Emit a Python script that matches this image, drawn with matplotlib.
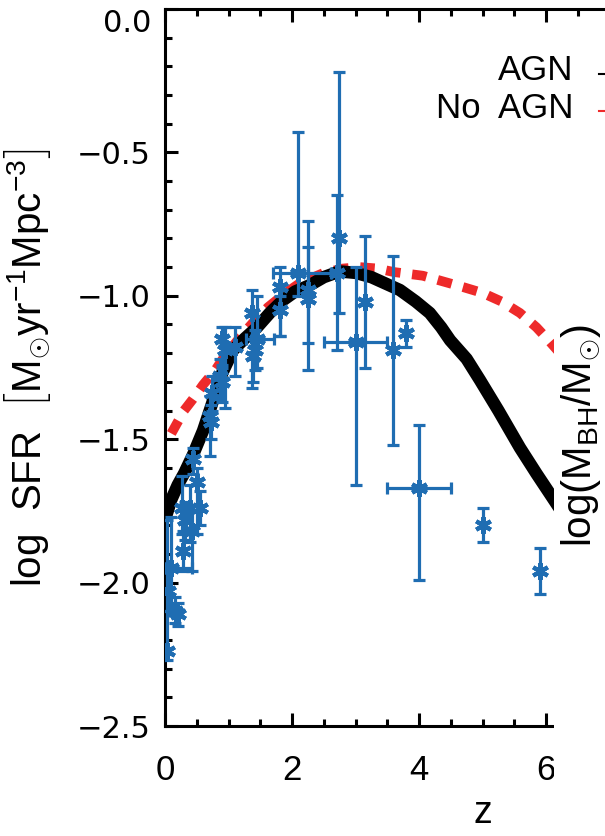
import numpy as np
import matplotlib
matplotlib.use("Agg")
import matplotlib.pyplot as plt
from matplotlib.patches import Rectangle
from matplotlib.lines import Line2D
from matplotlib.ticker import MultipleLocator

plt.rcParams['font.family'] = ['Liberation Sans', 'DejaVu Sans']
plt.rcParams['mathtext.fontset'] = 'custom'
plt.rcParams['mathtext.rm'] = 'Liberation Sans'
plt.rcParams['mathtext.it'] = 'Liberation Sans'

# model curves
z_agn = [0.0, 0.1, 0.2, 0.3, 0.45, 0.6, 0.75, 0.9, 1.07, 1.25, 1.45, 1.65, 1.86,
         2.05, 2.28, 2.5, 2.75, 3.0, 3.25, 3.5, 3.7, 3.95, 4.17, 4.35, 4.49, 4.75,
         4.96, 5.25, 5.59, 5.85, 6.09, 6.3]
sfr_agn = [-1.78, -1.71, -1.66, -1.62, -1.55, -1.47, -1.37, -1.27, -1.19, -1.15,
           -1.11, -1.06, -1.015, -0.985, -0.963, -0.935, -0.915, -0.92, -0.935,
           -0.96, -0.98, -1.02, -1.06, -1.11, -1.155, -1.22, -1.294, -1.40, -1.53,
           -1.62, -1.70, -1.77]

z_noagn = [0.1, 0.2, 0.3, 0.44, 0.6, 0.79, 0.94, 1.2, 1.4, 1.62, 1.9, 2.13, 2.5,
           2.8, 3.07, 3.35, 3.6, 4.06, 4.38, 4.7, 5.0, 5.3, 5.59, 5.85, 6.06, 6.3]
sfr_noagn = [-1.48, -1.44, -1.40, -1.36, -1.31, -1.26, -1.21, -1.14, -1.09, -1.04,
             -0.99, -0.955, -0.92, -0.905, -0.90, -0.905, -0.917, -0.93, -0.95,
             -0.97, -0.99, -1.02, -1.06, -1.11, -1.16, -1.22]

# observational compilation: z, log SFR, lower / upper bound of y error
obs_z = [4.0, 5.0, 5.9, 3.8, 3.59, 3.15, 3.0, 2.74, 2.71, 2.1, 2.25, 2.25, 1.81,
         1.81, 1.37, 1.45, 1.42, 1.38, 1.1, 0.9, 0.94, 0.86, 0.89, 0.74, 0.71,
         0.72, 0.44, 0.50, 0.27, 0.39, 0.55, 0.31, 0.43, 0.28, 0.1, 0.05, 0.16,
         0.2, 0.03]
obs_sfr = [-1.67, -1.80, -1.96, -1.13, -1.19, -1.02, -1.16, -0.80, -0.92, -0.92,
           -0.98, -1.01, -0.97, -1.05, -1.06, -1.15, -1.19, -1.21, -1.18, -1.15,
           -1.19, -1.28, -1.30, -1.34, -1.42, -1.44, -1.57, -1.65, -1.74, -1.74,
           -1.74, -1.78, -1.82, -1.89, -1.95, -2.03, -2.10, -2.11, -2.24]
obs_lo = [-1.99, -1.86, -2.04, -1.18, -1.52, -1.25, -1.66, -1.06, -1.19, -1.00,
          -1.26, -1.165, -1.14, -1.14, -1.32, -1.25, -1.26, -1.30, -1.28, -1.25,
          -1.39, -1.36, -1.37, -1.40, -1.56, -1.50, -1.62, -1.83, -1.83, -1.86,
          -1.80, -1.85, -1.96, -1.96, -2.10, -2.10, -2.14, -2.15, -2.27]
obs_hi = [-1.45, -1.74, -1.88, -1.085, -0.86, -0.79, -0.90, -0.22, -0.65, -0.43,
          -0.74, -0.83, -0.90, -1.00, -0.98, -1.00, -1.12, -1.15, -1.11, -1.11,
          -1.11, -1.22, -1.24, -1.28, -1.35, -1.38, -1.53, -1.60, -1.63, -1.66,
          -1.68, -1.72, -1.75, -1.82, -1.77, -1.95, -2.05, -2.07, -1.78]

# points that also have a redshift bin
bin_z = [4.0, 3.0, 2.1, 1.45, 0.1]
bin_sfr = [-1.67, -1.16, -0.92, -1.15, -1.95]
bin_zlo = [0.5, 0.5, 0.4, 0.17, 0.1]
bin_zhi = [0.5, 0.5, 0.52, 0.27, 0.32]

xtick_vals = [0, 2, 4, 6, 8, 10]
xtick_text = ['0', '2', '4', '6', '', '']
ytick_vals = [-2.5, -2.0, -1.5, -1.0, -0.5, 0.0]

blue = '#1f6db2'
red = '#ee2a2a'

fig = plt.figure(figsize=(6.05, 8.36), dpi=100)
ax = fig.add_axes([165/605, 110/836, 635/605, 717/836])

ax.plot(z_noagn, sfr_noagn, color=red, lw=7, dashes=(1.5, 1.2),
        dash_capstyle='butt', zorder=2)
ax.plot(z_agn, sfr_agn, color='black', lw=9, solid_capstyle='butt', zorder=3)

obs_sfr_a = np.array(obs_sfr)
yerr = [obs_sfr_a - np.array(obs_lo), np.array(obs_hi) - obs_sfr_a]
ax.errorbar(obs_z, obs_sfr, yerr=yerr, fmt='none', ecolor=blue, elinewidth=2.3,
            capsize=4.3, capthick=2.3, zorder=4)
ax.errorbar(bin_z, bin_sfr, xerr=[bin_zlo, bin_zhi], fmt='none', ecolor=blue,
            elinewidth=2.3, capsize=4.3, capthick=2.3, zorder=4)
ax.plot(obs_z, obs_sfr, ls='none', marker=(6, 2, 0), ms=12, mew=3, color=blue,
        zorder=5)

ax.set_xlim(0, 10)
ax.set_ylim(-2.5, 0.0)
ax.set_xticks(xtick_vals)
ax.set_xticklabels(xtick_text)
ax.xaxis.set_minor_locator(MultipleLocator(0.5))
ax.set_yticks(ytick_vals)
ax.set_yticklabels([f'{v:.1f}'.replace('-', '\u2212') for v in ytick_vals],
                   fontfamily='DejaVu Sans')
ax.yaxis.set_minor_locator(MultipleLocator(0.1))
ax.tick_params(which='both', direction='in', top=True, right=True, width=2.2)
ax.tick_params(which='major', length=9.5)
ax.tick_params(which='minor', length=5)
ax.tick_params(axis='x', labelsize=25, pad=20)
ax.tick_params(axis='y', labelsize=22, pad=10)
ax.get_yticklabels()[-1].set_va('top')
for s in ax.spines.values():
    s.set_linewidth(2.2)

ax.set_xlabel('z', fontsize=27, labelpad=6)
ax.set_ylabel(r'log  SFR  $\left[\mathrm{M_{\odot}yr^{-1}Mpc^{-3}}\right]$', fontsize=29)
ax.yaxis.set_label_coords(-137/635, 0.5)
ax.yaxis.label.set_va('center')

# legend
fig.text(573/605, 1 - 71/836, 'AGN', fontsize=25, ha='right', va='center')
fig.text(573/605, 1 - 108/836, 'No  AGN', fontsize=25, ha='right', va='center')
fig.add_artist(Line2D([599/605, 1.05], [1 - 74/836] * 2, color='black', lw=1.5))
fig.add_artist(Line2D([599/605, 1.05], [1 - 111/836] * 2, color=red, lw=1.5))

# neighbouring panel covers the right side
fig.add_artist(Rectangle((554/605, 0), 1, (836 - 130)/836, transform=fig.transFigure,
                         facecolor='white', edgecolor='none', zorder=5))
fig.text(581/605, 1 - 435/836, r'log$\left(\mathrm{M_{BH}/M_{\odot}}\right)$',
         fontsize=29, rotation=90, ha='center', va='center', zorder=6)

fig.savefig('out.png', dpi=100)
